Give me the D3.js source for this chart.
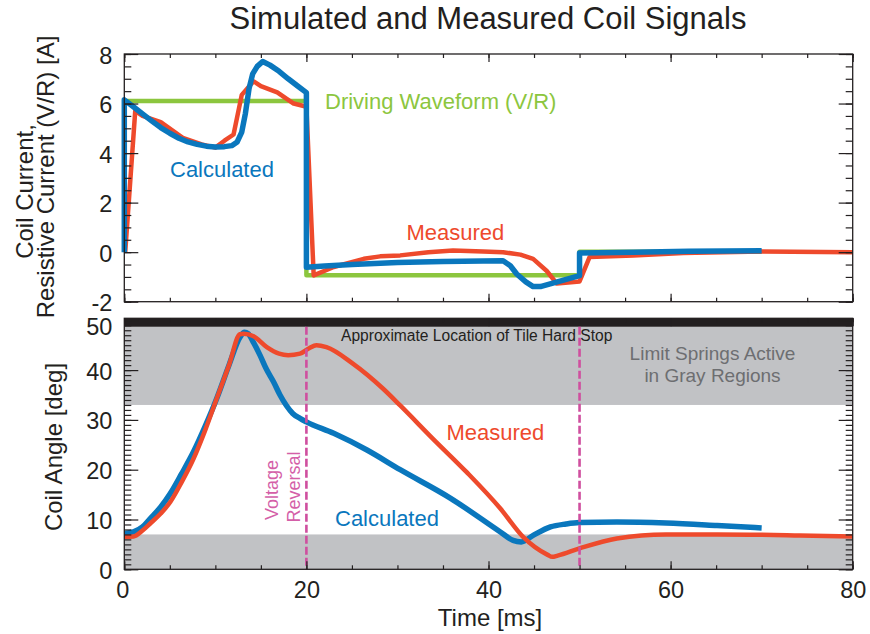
<!DOCTYPE html>
<html>
<head>
<meta charset="utf-8">
<script src="https://cdn.jsdelivr.net/npm/d3@7/dist/d3.min.js"></script>
<style>
  html, body { margin: 0; padding: 0; background: #fff; }
  svg text { font-family: "Liberation Sans", Arial, Helvetica, sans-serif; }
</style>
</head>
<body>
<svg id="chart" width="870" height="634"></svg>
<script>
// ---------- DATA ----------
// Top panel: coil current [A] vs time [ms]
const driveT = [0, 20, 20, 50, 50, 70];
const driveI = [6.1, 6.1, -0.93, -0.93, 0.02, 0.02];

const calcCurT = [0, 0, 1, 2, 3, 4, 5, 6, 7, 8, 9, 10, 11, 11.8, 12.4, 12.9, 13.3, 13.7, 14.1, 14.6, 15.2, 16, 17, 18, 19, 20, 20, 22, 25, 30, 35, 41.6, 42.4, 43.1, 44.1, 44.9, 45.7, 50, 50, 55.9, 62, 70];
const calcCurI = [0, 6.15, 5.87, 5.58, 5.3, 5.03, 4.8, 4.6, 4.45, 4.35, 4.28, 4.25, 4.26, 4.3, 4.45, 4.85, 5.6, 6.6, 7.2, 7.5, 7.7, 7.55, 7.3, 7.0, 6.72, 6.44, -0.61, -0.56, -0.5, -0.42, -0.38, -0.35, -0.55, -0.88, -1.2, -1.39, -1.39, -0.95, -0.03, 0.0, 0.04, 0.06];

const measCurT = [0.1, 1.2, 2, 4, 6.5, 8.5, 10, 11, 12, 12.9, 14.2, 15, 16.8, 18.6, 19.7, 20, 20.8, 23, 26.3, 28.1, 30.3, 33.4, 36.1, 39.4, 41.6, 43.5, 44.9, 46.4, 47.5, 50, 51.1, 55.9, 61.4, 70, 80];
const measCurI = [0, 5.7, 5.5, 5.25, 4.6, 4.35, 4.22, 4.5, 4.75, 6.35, 6.9, 6.7, 6.45, 6.0, 5.9, 5.87, -0.94, -0.6, -0.27, -0.17, -0.13, 0.0, 0.07, 0.03, 0.0, -0.1, -0.27, -0.76, -1.27, -1.18, -0.2, -0.13, -0.03, 0.03, 0.0];

// Bottom panel: coil angle [deg] vs time [ms]
const calcAngT = [0, 1, 2, 2.85, 4, 5.05, 6.3, 7.6, 8.9, 10.15, 11.5, 12.7, 13.2, 13.6, 14.2, 14.9, 15.6, 16.4, 17.1, 17.8, 18.5, 19.3, 20, 23, 26.6, 30.3, 35.8, 41.3, 42.7, 43.6, 44.9, 46.8, 48.5, 50, 54.1, 59.5, 65.1, 70];
const calcAngA = [7.2, 7.5, 8.5, 10.2, 12.5, 15.2, 19.2, 23.6, 28.8, 34.3, 41, 46.6, 47.6, 47.3, 45.5, 43, 40.2, 37.6, 35, 32.9, 31.3, 30.3, 29.6, 27.3, 24.0, 20.0, 14.3, 7.5, 5.8, 5.5, 6.8, 8.5, 9.1, 9.4, 9.5, 9.3, 8.8, 8.3];

const measAngT = [0, 1, 2, 2.85, 4, 5.05, 6.3, 7.6, 8.9, 10.15, 11.5, 12.7, 13.1, 14.2, 15.65, 17, 18, 19.3, 20.3, 21.1, 22.2, 25.1, 28.4, 30.3, 33.9, 37.6, 41.3, 43.8, 46.5, 47, 47.6, 50, 54.1, 59.5, 65.1, 74.2, 80];
const measAngA = [6.5, 6.6, 7.8, 9.2, 11.2, 13.5, 17.5, 22.2, 28, 34.3, 41, 47.2, 47.3, 46.8, 44.6, 43.3, 43, 43.3, 44.4, 45, 44.6, 41.3, 36.3, 32.9, 26.2, 19.5, 12.2, 6.5, 2.9, 2.5, 2.75, 4.2, 6.2, 7.0, 7.0, 6.8, 6.6];

// Annotations / regions
const grayBands = [[0, 7], [33, 48.7]];
const hardStop = [48.7, 50.4];
const markerTimes = [20, 50];

// Axis ticks
const xMajor = [0, 20, 40, 60, 80];
const xMinor = d3.range(0, 81, 5);
const yTopMajor = [-2, 0, 2, 4, 6, 8];
const yTopMinor = d3.range(-2, 8.01, 0.5);
const yBotMajor = [0, 10, 20, 30, 40, 50];
const yBotMinor = d3.range(0, 50.01, 1);

// ---------- STYLE ----------
const C = {
  red: "#ee4a2c", blue: "#0a77bd", green: "#8cc63e", gray: "#c1c2c5",
  mag: "#cf4f9f", magText: "#d45fa8", bar: "#231f20", ink: "#231f20", note: "#6d6e71"
};

const svg = d3.select("#chart");
const x = d3.scaleLinear().domain([0, 80]).range([124.3, 852.7]);
const yT = d3.scaleLinear().domain([-2, 8]).range([301.7, 54]);
const yB = d3.scaleLinear().domain([0, 50.4]).range([569.3, 318.3]);

const X0 = x.range()[0], X1 = x.range()[1];

// Title
svg.append("text").attr("x", 488).attr("y", 29).attr("text-anchor", "middle")
  .attr("font-size", 31).attr("fill", C.ink).text("Simulated and Measured Coil Signals");

// ---------- BOTTOM PANEL BACKGROUND ----------
const gB = svg.append("g");
gB.selectAll("rect.band").data(grayBands).join("rect").attr("class", "band")
  .attr("x", X0).attr("width", X1 - X0)
  .attr("y", d => yB(d[1])).attr("height", d => yB(d[0]) - yB(d[1]))
  .attr("fill", C.gray);
gB.append("rect").attr("x", X0).attr("width", X1 - X0)
  .attr("y", yB(hardStop[1])).attr("height", yB(hardStop[0]) - yB(hardStop[1]))
  .attr("fill", C.bar);

// ---------- LINES ----------
function series(T, V) { return T.map((t, i) => [t, V[i]]); }
const lineT = d3.line().x(d => x(d[0])).y(d => yT(d[1]));
const lineB = d3.line().x(d => x(d[0])).y(d => yB(d[1])).curve(d3.curveMonotoneX);

function path(g, gen, data, color, w) {
  g.append("path").datum(data).attr("d", gen).attr("fill", "none")
    .attr("stroke", color).attr("stroke-width", w)
    .attr("stroke-linejoin", "round").attr("stroke-linecap", "butt");
}

const gT = svg.append("g");
path(gT, lineT, series(driveT, driveI), C.green, 4.5);
path(gT, lineT, series(measCurT, measCurI), C.red, 4.5);
path(gT, lineT, series(calcCurT, calcCurI), C.blue, 5.5);

path(gB, lineB, series(calcAngT, calcAngA), C.blue, 5.5);
path(gB, lineB, series(measAngT, measAngA), C.red, 4.5);

// ---------- TEXT LABELS ----------
function label(txt, xx, yy, size, color, anchor) {
  return svg.append("text").attr("x", xx).attr("y", yy).attr("font-size", size)
    .attr("fill", color).attr("text-anchor", anchor || "start").text(txt);
}
label("Driving Waveform (V/R)", 325, 108.5, 22, C.green);
label("Calculated", 170, 176.5, 22, C.blue);
label("Measured", 406.5, 240, 22, C.red);

label("Approximate Location of Tile Hard Stop", 341, 340.5, 15.6, C.ink);
label("Limit Springs Active", 712.5, 359.5, 19, C.note, "middle");
label("in Gray Regions", 712.5, 382, 19, C.note, "middle");
label("Measured", 446.5, 440, 22, C.red);
label("Calculated", 335, 525.7, 22, C.blue);

svg.append("text").attr("transform", "translate(278,490) rotate(-90)")
  .attr("text-anchor", "middle").attr("font-size", 18).attr("fill", C.magText).text("Voltage");
svg.append("text").attr("transform", "translate(299.5,487) rotate(-90)")
  .attr("text-anchor", "middle").attr("font-size", 18).attr("fill", C.magText).text("Reversal");

// Dashed marker lines (on top of curves and annotation text)
svg.selectAll("line.marker").data(markerTimes).join("line").attr("class", "marker")
  .attr("x1", d => x(d)).attr("x2", d => x(d))
  .attr("y1", yB(hardStop[0])).attr("y2", yB(0))
  .attr("stroke", C.mag).attr("stroke-width", 2.6).attr("stroke-dasharray", "8,3");

// Axis titles
svg.append("text").attr("transform", "translate(32.5,191.5) rotate(-90)")
  .attr("text-anchor", "middle").attr("font-size", 24).attr("fill", C.ink).text("Coil Current,");
svg.append("text").attr("transform", "translate(54,177) rotate(-90)")
  .attr("text-anchor", "middle").attr("font-size", 24).attr("fill", C.ink).text("Resistive Current (V/R) [A]");
svg.append("text").attr("transform", "translate(62,447) rotate(-90)")
  .attr("text-anchor", "middle").attr("font-size", 24).attr("fill", C.ink).text("Coil Angle [deg]");
label("Time [ms]", 490, 626, 24, C.ink, "middle");

// ---------- AXES ----------
const fmt = d => String(d);
function styleAxis(g) {
  g.select(".domain").remove();
  g.selectAll(".tick line").attr("stroke", C.ink).attr("stroke-width", 1.2);
  g.selectAll(".tick text").attr("fill", C.ink).attr("font-size", 23.5)
    .attr("font-family", "'Liberation Sans', Arial, Helvetica, sans-serif");
}
function panelAxes(y, yMaj, yMin, withXLabels, shiftTop) {
  const top = y.range()[1], bot = y.range()[0];
  // left
  svg.append("g").attr("transform", `translate(${X0},0)`)
    .call(d3.axisLeft(y).tickValues(yMin).tickSize(-7).tickFormat("")).call(styleAxis);
  const gl = svg.append("g").attr("transform", `translate(${X0},0)`)
    .call(d3.axisLeft(y).tickValues(yMaj).tickSize(-14).tickPadding(12).tickFormat(fmt)).call(styleAxis);
  gl.selectAll(".tick text").attr("dy", d => (d === yMaj[yMaj.length - 1] ? shiftTop : 0.32 * 23.5 + 1.5));
  // right
  svg.append("g").attr("transform", `translate(${X1},0)`)
    .call(d3.axisRight(y).tickValues(yMin).tickSize(-7).tickFormat("")).call(styleAxis);
  svg.append("g").attr("transform", `translate(${X1},0)`)
    .call(d3.axisRight(y).tickValues(yMaj).tickSize(-14).tickFormat("")).call(styleAxis);
  // top
  svg.append("g").attr("transform", `translate(0,${top})`)
    .call(d3.axisTop(x).tickValues(xMinor).tickSize(-4).tickFormat("")).call(styleAxis);
  svg.append("g").attr("transform", `translate(0,${top})`)
    .call(d3.axisTop(x).tickValues(xMajor).tickSize(-8).tickFormat("")).call(styleAxis);
  // bottom
  svg.append("g").attr("transform", `translate(0,${bot})`)
    .call(d3.axisBottom(x).tickValues(xMinor).tickSize(-4).tickFormat("")).call(styleAxis);
  const gx = svg.append("g").attr("transform", `translate(0,${bot})`)
    .call(d3.axisBottom(x).tickValues(xMajor).tickSize(-8).tickPadding(12)
      .tickFormat(withXLabels ? fmt : "")).call(styleAxis);
  gx.selectAll(".tick text").attr("dx", d => (d === 0 ? -2 : 0));
  // frame
  svg.append("rect").attr("x", X0).attr("y", top).attr("width", X1 - X0).attr("height", bot - top)
    .attr("fill", "none").attr("stroke", C.ink).attr("stroke-width", 1.3);
}
panelAxes(yT, yTopMajor, yTopMinor, false, 9.5);
panelAxes(yB, yBotMajor, yBotMinor, true, 14);
</script>
</body>
</html>
